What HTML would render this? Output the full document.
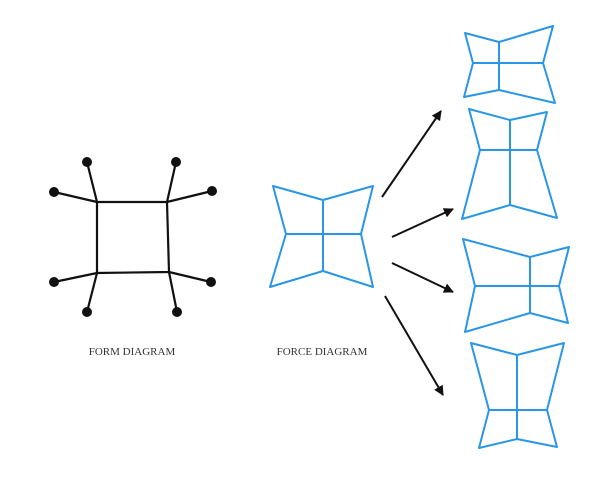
<!DOCTYPE html>
<html><head><style>html,body{margin:0;padding:0;background:#fff;}svg{display:block}</style></head>
<body>
<svg width="600" height="479" viewBox="0 0 600 479" xmlns="http://www.w3.org/2000/svg">
<defs><marker id="a" viewBox="0 0 10 10" refX="9" refY="5" markerWidth="5" markerHeight="5" orient="auto"><path d="M0,0L10,5L0,10z" fill="#111"/></marker></defs>
<g stroke="#111" stroke-width="2.2" fill="none">
<path d="M97,202L167,202L169,272L97,273Z"/>
<path d="M97,202L87,162M97,202L54,192M167,202L176,162M167,202L212,191M97,273L54,282M97,273L87,312M169,272L211,282M169,272L177,312"/>
</g>
<g fill="#111">
<circle cx="87" cy="162" r="5"/><circle cx="54" cy="192" r="5"/><circle cx="176" cy="162" r="5"/><circle cx="212" cy="191" r="5"/>
<circle cx="54" cy="282" r="5"/><circle cx="87" cy="312" r="5"/><circle cx="211" cy="282" r="5"/><circle cx="177" cy="312" r="5"/>
</g>
<g stroke="#2a96e8" stroke-width="2" fill="none" stroke-linejoin="round">
<path d="M273,186L323,200L373,186L361,234L373,287L323,271L270,287L286,234Z M323,200L323,271 M286,234L361,234"/>
<path d="M465,33L499,42L553,26L543,63L555,103L499,90L464,97L473,63Z M499,42L499,90 M473,63L543,63"/>
<path d="M469,109L510,120L547,112L537,150L557,218L510,205L462,219L480,150Z M510,120L510,205 M480,150L537,150"/>
<path d="M463,239L530,257L569,247L559,286L568,323L530,313L465,332L475,286Z M530,257L530,313 M475,286L559,286"/>
<path d="M471,343L517,355L564,343L547,410L557,447L517,439L479,448L489,410Z M517,355L517,439 M489,410L547,410"/>
</g>
<g stroke="#111" stroke-width="2" marker-end="url(#a)">
<line x1="382" y1="197" x2="441" y2="111"/>
<line x1="392" y1="237" x2="453" y2="209"/>
<line x1="392" y1="263" x2="453" y2="292"/>
<line x1="385" y1="296" x2="443" y2="395"/>
</g>
<g font-family="Liberation Serif, serif" font-size="11" fill="#333" text-anchor="middle">
<text x="132" y="355">FORM DIAGRAM</text>
<text x="322" y="355">FORCE DIAGRAM</text>
</g>
</svg>
</body></html>
